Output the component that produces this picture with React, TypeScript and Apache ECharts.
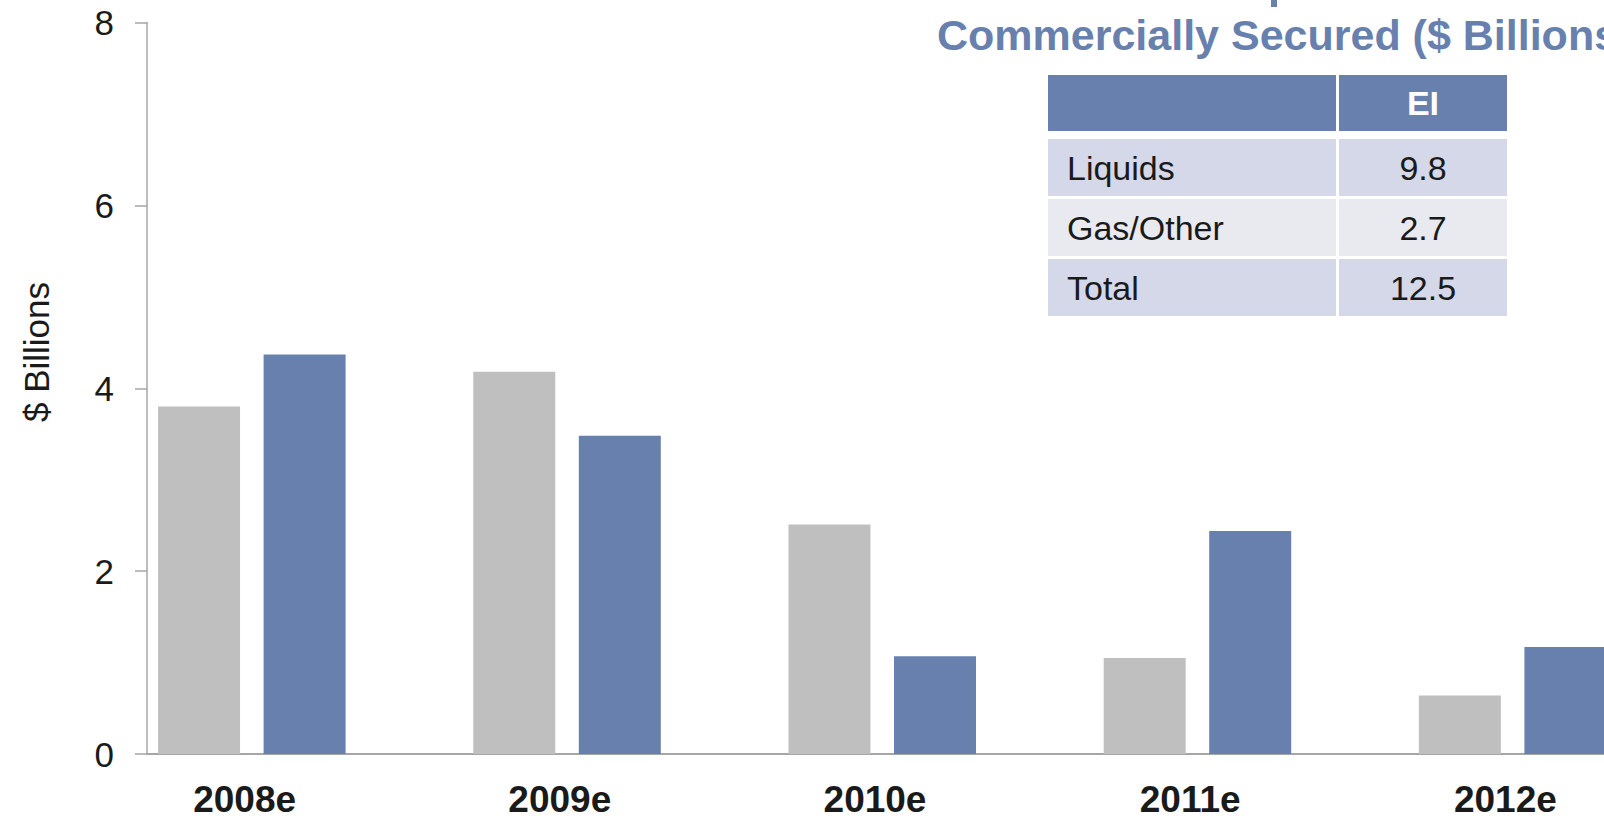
import React, { useEffect, useRef } from "react";
import * as echarts from "echarts";

const categories = ["2008e", "2009e", "2010e", "2011e", "2012e"];
const grayValues = [3.8, 4.18, 2.51, 1.05, 0.64];
const blueValues = [4.37, 3.48, 1.07, 2.44, 1.17];
const spacerValues = [null, null, null, null, null];
const yTicks = { min: 0, max: 8, interval: 2 };

const titleText = "Commercially Secured ($ Billions)";
const yAxisTitle = "$ Billions";
const tableHeader = ["", "EI"];
const tableLabels = ["Liquids", "Gas/Other", "Total"];
const tableValues = ["9.8", "2.7", "12.5"];

const FONT = "'Liberation Sans', Arial, Helvetica, sans-serif";
const BLUE = "#6880ae";
const GRAY = "#bfbfbf";

export default function App() {
  const ref = useRef<HTMLDivElement>(null);
  useEffect(() => {
    if (!ref.current) return;
    const chart = echarts.init(ref.current, null, { renderer: "svg" });

    const tX = 1048;
    const colSplit = 1336;
    const col2X = 1339;
    const tRight = 1507;
    const headerTop = 75;
    const headerH = 56;
    const rowTop = 139;
    const rowH = 57;
    const rowGap = 3;
    const rowColors = ["#d5d8e8", "#e9eaf0", "#d5d8e8"];

    const graphics: any[] = [];
    graphics.push({ type: "rect", shape: { x: tX, y: headerTop, width: colSplit - tX, height: headerH }, style: { fill: BLUE } });
    graphics.push({ type: "rect", shape: { x: col2X, y: headerTop, width: tRight - col2X, height: headerH }, style: { fill: BLUE } });
    graphics.push({
      type: "text",
      x: (col2X + tRight) / 2,
      y: headerTop + headerH / 2,
      style: { text: tableHeader[1], fill: "#ffffff", font: `bold 34px ${FONT}`, textAlign: "center", textVerticalAlign: "middle" },
    });
    tableLabels.forEach((lab, i) => {
      const y = rowTop + i * (rowH + rowGap);
      graphics.push({ type: "rect", shape: { x: tX, y, width: colSplit - tX, height: rowH }, style: { fill: rowColors[i] } });
      graphics.push({ type: "rect", shape: { x: col2X, y, width: tRight - col2X, height: rowH }, style: { fill: rowColors[i] } });
      graphics.push({
        type: "text",
        x: 1067,
        y: y + rowH / 2,
        style: { text: lab, fill: "#1a1a1a", font: `34px ${FONT}`, textAlign: "left", textVerticalAlign: "middle" },
      });
      graphics.push({
        type: "text",
        x: (col2X + tRight) / 2,
        y: y + rowH / 2,
        style: { text: tableValues[i], fill: "#1a1a1a", font: `34px ${FONT}`, textAlign: "center", textVerticalAlign: "middle" },
      });
    });
    graphics.push({
      type: "text",
      x: 937,
      y: 35,
      style: { text: titleText, fill: BLUE, font: `bold 43px ${FONT}`, textAlign: "left", textVerticalAlign: "middle" },
    });
    graphics.push({ type: "rect", shape: { x: 1271, y: 0, width: 6, height: 7 }, style: { fill: BLUE } });
    graphics.push({
      type: "text",
      x: 36,
      y: 352,
      rotation: Math.PI / 2,
      style: { text: yAxisTitle, fill: "#1a1a1a", font: `35px ${FONT}`, textAlign: "center", textVerticalAlign: "middle" },
    });

    chart.setOption({
      animation: false,
      backgroundColor: "#ffffff",
      grid: { left: 147, top: 22.5, height: 731.5, width: 1576, containLabel: false, outerBoundsMode: "none" },
      xAxis: {
        type: "category",
        data: categories,
        axisLine: { lineStyle: { color: "#a6a6a6", width: 2 } },
        axisTick: { show: false },
        axisLabel: {
          color: "#1a1a1a",
          fontFamily: FONT,
          fontSize: 37,
          fontWeight: "bold",
          lineHeight: 34,
          margin: 28,
          padding: [0, 120, 0, 0],
        },
      },
      yAxis: {
        type: "value",
        min: yTicks.min,
        max: yTicks.max,
        interval: yTicks.interval,
        splitLine: { show: false },
        axisLine: { show: true, lineStyle: { color: "#a6a6a6", width: 1.5 } },
        axisTick: { show: true, inside: false, length: 12, lineStyle: { color: "#a6a6a6", width: 1.5 } },
        axisLabel: { color: "#1a1a1a", fontFamily: FONT, fontSize: 35, margin: 33 },
      },
      series: [
        { type: "bar", name: "Gray", data: grayValues, barWidth: 82, barGap: "28.7%", itemStyle: { color: GRAY } },
        { type: "bar", name: "Blue", data: blueValues, barWidth: 82, barGap: "28.7%", itemStyle: { color: BLUE } },
        { type: "bar", name: "Spacer", data: spacerValues, barWidth: 82, barGap: "28.7%", itemStyle: { color: "transparent" } },
      ],
      graphic: graphics,
    });
    return () => chart.dispose();
  }, []);
  return <div ref={ref} style={{ position: "fixed", left: 0, top: 0, width: 1604, height: 818 }} />;
}
